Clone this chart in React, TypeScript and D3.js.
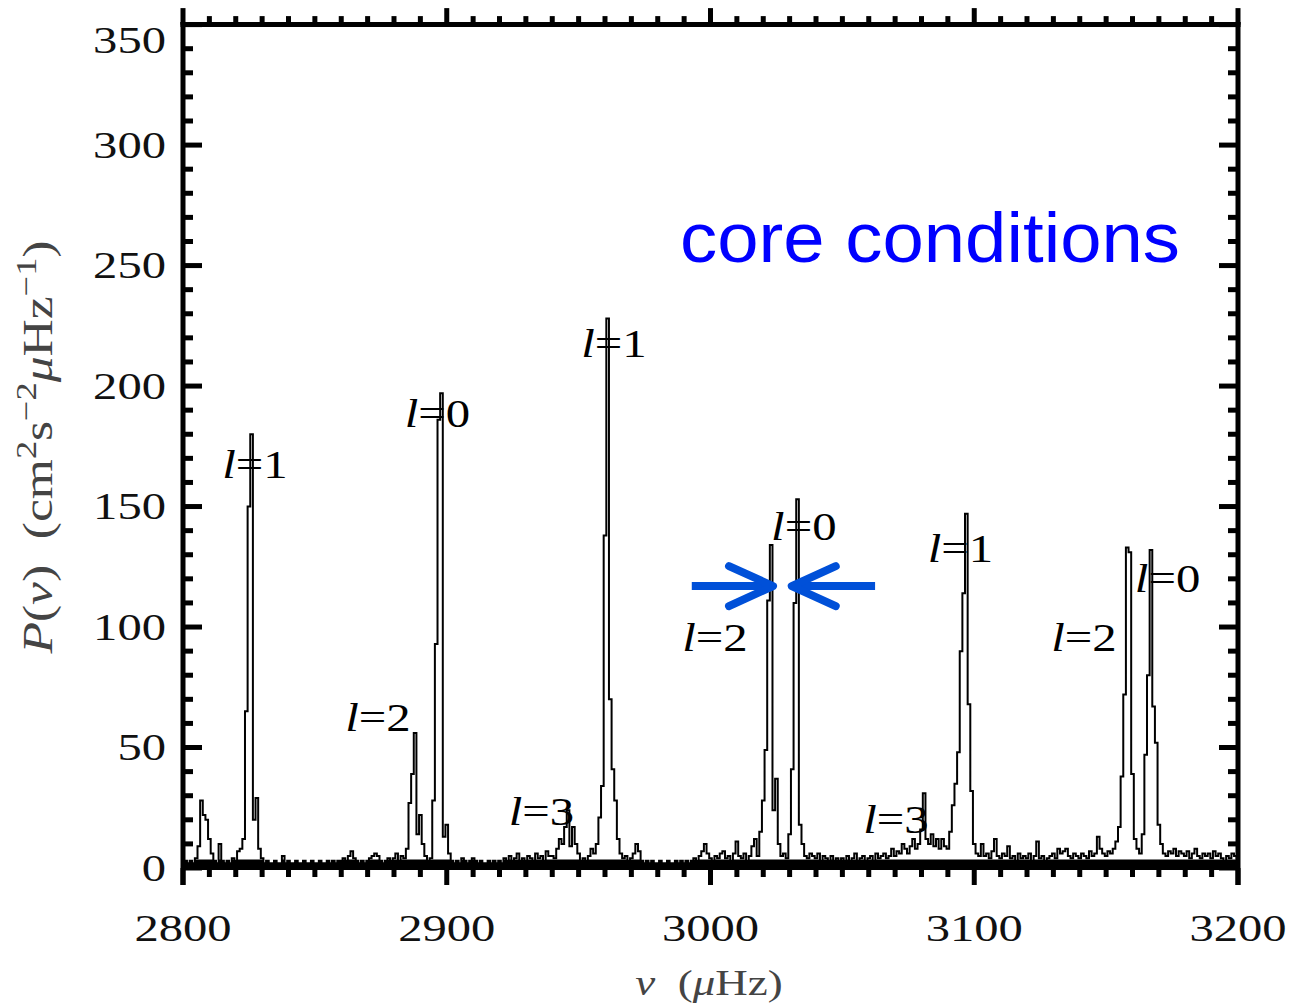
import React from 'react';
import * as d3 from 'd3';

// ---------------- data ----------------
const FREQ_START = 2800; // μHz
const FREQ_STEP = 1; // μHz per bin

// power spectrum P(ν), one value per 1 μHz bin, 2800 … 3200 μHz
const power: number[] = [
  2, 3, 2, 3, 2, 4, 9, 28, 22, 20, // 2800
  12, 6, 3, 2, 10, 3, 2, 3, 2, 4, // 2810
  3, 7, 8, 12, 65, 150, 180, 20, 29, 8, // 2820
  4, 2, 3, 2, 2, 3, 2, 2, 5, 2, // 2830
  3, 2, 2, 3, 2, 2, 3, 2, 2, 3, // 2840
  2, 2, 3, 2, 2, 3, 2, 3, 2, 3, // 2850
  3, 4, 3, 5, 7, 4, 3, 2, 3, 2, // 2860
  3, 4, 5, 6, 5, 3, 2, 3, 4, 3, // 2870
  4, 6, 3, 5, 4, 8, 27, 39, 56, 14, // 2880
  22, 10, 5, 3, 4, 28, 93, 186, 197, 13, // 2890
  18, 6, 3, 2, 3, 2, 4, 3, 2, 3, // 2900
  4, 3, 2, 3, 2, 2, 3, 2, 3, 2, // 2910
  3, 2, 4, 3, 5, 3, 4, 6, 3, 4, // 2920
  3, 5, 4, 3, 6, 4, 5, 3, 7, 5, // 2930
  5, 4, 8, 12, 10, 17, 24, 9, 17, 10, // 2940
  6, 3, 4, 3, 5, 8, 6, 10, 21, 34, // 2950
  138, 228, 70, 41, 28, 12, 6, 4, 5, 3, // 2960
  4, 6, 10, 7, 3, 2, 3, 2, 3, 2, // 2970
  2, 3, 2, 2, 3, 2, 2, 3, 2, 3, // 2980
  2, 3, 2, 3, 4, 3, 5, 7, 10, 6, // 2990
  4, 3, 5, 4, 6, 7, 4, 5, 3, 6, // 3000
  11, 5, 4, 6, 3, 5, 9, 12, 5, 15, // 3010
  28, 49, 111, 134, 24, 37, 10, 5, 6, 4, // 3020
  14, 41, 110, 153, 18, 10, 5, 4, 6, 5, // 3030
  4, 6, 3, 5, 4, 3, 5, 3, 4, 3, // 3040
  4, 3, 5, 3, 4, 6, 3, 4, 5, 3, // 3050
  4, 5, 3, 6, 4, 5, 6, 4, 5, 8, // 3060
  5, 7, 6, 10, 8, 6, 9, 12, 8, 10, // 3070
  16, 31, 12, 10, 14, 9, 12, 8, 12, 9, // 3080
  8, 15, 26, 35, 48, 90, 114, 147, 68, 32, // 3090
  10, 6, 5, 10, 5, 6, 4, 7, 12, 5, // 3100
  4, 6, 5, 9, 4, 5, 3, 6, 4, 5, // 3110
  4, 6, 3, 5, 11, 4, 5, 3, 4, 5, // 3120
  6, 4, 8, 6, 7, 8, 5, 4, 6, 5, // 3130
  4, 6, 5, 4, 7, 5, 6, 13, 8, 6, // 3140
  5, 7, 6, 8, 11, 17, 38, 72, 133, 131, // 3150
  39, 12, 8, 6, 14, 47, 80, 132, 67, 52, // 3160
  18, 10, 6, 5, 7, 6, 8, 5, 7, 6, // 3170
  5, 7, 4, 6, 8, 5, 4, 6, 5, 6, // 3180
  4, 7, 5, 6, 4, 3, 5, 4, 6, 5, // 3190
  4, // 3200
];

const xDomain = [2800, 3200];
const yDomain = [0, 350];
const xTickLabels = ['2800', '2900', '3000', '3100', '3200'];
const yTickLabels = ['0', '50', '100', '150', '200', '250', '300', '350'];

// mode labels: degree l, anchored in data units (ν, P)
const modeLabelDegrees = ['1', '2', '0', '3', '1', '2', '0', '3', '1', '2', '0'];
const modeLabelNu = [2827.3, 2873.9, 2896.5, 2935.9, 2963.4, 3001.7, 3035.4, 3070.3, 3094.8, 3141.6, 3173.3];
const modeLabelP = [162, 57, 183, 18, 212, 90, 136, 14.5, 127, 90, 114.5];

// arrows pointing at the small separation l=2 / l=0
const arrowTipNu = [3023.7, 3030.8];
const arrowTailNu = [2992.9, 3062.4];
const arrowP = [117, 117];

const annotationText = 'core conditions';

// ---------------- layout ----------------
const W = 1291;
const H = 1004;
const PL = 183;
const PR = 1238;
const PT = 24.6;
const PB = 868; // P = 0
const AXIS_BOTTOM = 885;

const SERIF = '"Liberation Serif", "Times New Roman", serif';
const SANS = '"Liberation Sans", Arial, sans-serif';
const STRETCH = 1.28;
const BLUE = '#0050d8';

export default function App() {
  const x = d3.scaleLinear().domain(xDomain).range([PL, PR]);
  const y = d3.scaleLinear().domain(yDomain).range([PB, PT]);

  const pts: [number, number][] = power.map((v, i) => [FREQ_START + i * FREQ_STEP, v]);
  const line = d3
    .line<[number, number]>()
    .x((d) => x(d[0]))
    .y((d) => y(d[1]))
    .curve(d3.curveStep);
  const floorArea = d3
    .area<[number, number]>()
    .x((d) => x(d[0]))
    .y0(y(0))
    .y1((d) => y(Math.min(d[1], 3.5)))
    .curve(d3.curveStep);

  const minorX = d3.range(xDomain[0], xDomain[1] + 0.001, 10);
  const minorY = d3.range(yDomain[0], yDomain[1] + 0.001, 10);
  const isMajorX = (v: number) => Math.abs(v % 100) < 1e-6;
  const isMajorY = (v: number) => Math.abs(v % 50) < 1e-6;

  const sw = 5;

  return (
    <svg
      width={W}
      height={H}
      viewBox={`0 0 ${W} ${H}`}
      style={{ position: 'absolute', left: 0, top: 0, background: '#fff' }}
    >
      <defs>
        <clipPath id="plotclip">
          <rect x={PL} y={PT} width={PR - PL} height={AXIS_BOTTOM - PT} />
        </clipPath>
      </defs>
      <rect x={0} y={0} width={W} height={H} fill="#fff" />

      {/* spectrum */}
      <g clipPath="url(#plotclip)">
        <path d={floorArea(pts) || ''} fill="#000" />
        <path d={line(pts) || ''} fill="none" stroke="#000" strokeWidth={2} />
      </g>

      {/* frame */}
      <g stroke="#000" strokeWidth={sw} fill="none">
        <line x1={PL - sw / 2} x2={PR + sw / 2} y1={PT} y2={PT} />
        <line x1={PL} x2={PL} y1={PT - sw / 2} y2={AXIS_BOTTOM} />
        <line x1={PR} x2={PR} y1={PT - sw / 2} y2={AXIS_BOTTOM} />
        <line x1={PL} x2={PR} y1={y(0)} y2={y(0)} strokeWidth={4} />
      </g>

      {/* x ticks: top (outward) and bottom (outward) */}
      <g stroke="#000" strokeWidth={sw}>
        {minorX.map((v) => (
          <g key={'xt' + v}>
            <line x1={x(v)} x2={x(v)} y1={PT} y2={PT - (isMajorX(v) ? 16.5 : 8.5)} />
            <line x1={x(v)} x2={x(v)} y1={y(0)} y2={isMajorX(v) ? AXIS_BOTTOM : y(0) + 9} />
          </g>
        ))}
      </g>

      {/* y ticks: left and right (inward) */}
      <g stroke="#000" strokeWidth={sw}>
        {minorY.map((v) => (
          <g key={'yt' + v}>
            <line x1={PL} x2={PL + (isMajorY(v) ? 19 : 10)} y1={y(v)} y2={y(v)} />
            <line x1={PR} x2={PR - (isMajorY(v) ? 19 : 10)} y1={y(v)} y2={y(v)} />
          </g>
        ))}
      </g>

      {/* x tick labels */}
      <g fontFamily={SERIF} fontSize={38} fill="#111">
        {xTickLabels.map((t) => (
          <g key={'xl' + t} transform={`translate(${x(+t)},941) scale(${STRETCH},1)`}>
            <text textAnchor="middle">{t}</text>
          </g>
        ))}
      </g>

      {/* y tick labels */}
      <g fontFamily={SERIF} fontSize={38} fill="#111">
        {yTickLabels.map((t) => (
          <g key={'yl' + t} transform={`translate(166,${Math.max(y(+t), 40)}) scale(${STRETCH},1)`}>
            <text textAnchor="end" dy="0.34em">
              {t}
            </text>
          </g>
        ))}
      </g>

      {/* axis titles */}
      <g
        transform={`translate(709,995) scale(1.25,1)`}
        fontFamily={SERIF}
        fontSize={36}
        fill="#444"
      >
        <text textAnchor="middle">
          <tspan fontStyle="italic">ν</tspan>
          {'\u00A0\u00A0'}(<tspan fontStyle="italic">μ</tspan>Hz)
        </text>
      </g>
      <g transform={`translate(52,447) scale(1.25,1) rotate(-90)`} fontFamily={SERIF} fontSize={34} fill="#444">
        <text textAnchor="middle" textLength={413} lengthAdjust="spacingAndGlyphs">
          <tspan fontStyle="italic">P</tspan>(<tspan fontStyle="italic">ν</tspan>){'\u00A0\u00A0'}(cm
          <tspan dy={-13} fontSize={24}>
            2
          </tspan>
          <tspan dy={13}>s</tspan>
          <tspan dy={-13} fontSize={24}>
            −2
          </tspan>
          <tspan dy={13} fontStyle="italic">
            μ
          </tspan>
          Hz
          <tspan dy={-13} fontSize={24}>
            −1
          </tspan>
          <tspan dy={13}>)</tspan>
        </text>
      </g>

      {/* mode labels */}
      <g fontFamily={SERIF} fontSize={40} fill="#000">
        {modeLabelDegrees.map((l, i) => (
          <g key={'ml' + i} transform={`translate(${x(modeLabelNu[i])},${y(modeLabelP[i])}) scale(1.22,1)`}>
            <text textAnchor="middle">
              <tspan fontStyle="italic">l</tspan>={l}
            </text>
          </g>
        ))}
      </g>

      {/* arrows */}
      <g stroke={BLUE} strokeWidth={8} fill="none" strokeLinecap="round" strokeLinejoin="round">
        {arrowTipNu.map((tip, i) => {
          const tx = x(tip);
          const ty = y(arrowP[i]);
          const dir = Math.sign(x(arrowTailNu[i]) - tx);
          return (
            <g key={'ar' + i}>
              <line x1={x(arrowTailNu[i])} x2={tx} y1={ty} y2={ty} strokeLinecap="butt" />
              <polyline points={`${tx + dir * 44},${ty - 20} ${tx},${ty} ${tx + dir * 44},${ty + 20}`} />
            </g>
          );
        })}
      </g>

      {/* annotation */}
      <text
        x={680}
        y={262}
        fontFamily={SANS}
        fontSize={70}
        fill="#0000ff"
        textLength={500}
        lengthAdjust="spacingAndGlyphs"
      >
        {annotationText}
      </text>
    </svg>
  );
}
